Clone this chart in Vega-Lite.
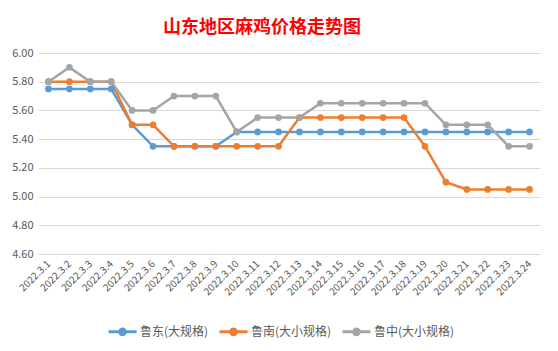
{
  "$schema": "https://vega.github.io/schema/vega-lite/v6.json",
  "autosize": {"type": "none"},
  "width": 502,
  "height": 201,
  "padding": {"left": 38, "top": 53, "right": 18, "bottom": 97},
  "background": "white",
  "title": {
    "text": "山东地区麻鸡价格走势图",
    "font": "Noto Sans CJK SC",
    "fontSize": 18,
    "fontWeight": "bold",
    "color": "#FF0000",
    "anchor": "middle",
    "dx": -27,
    "offset": 10
  },
  "config": {
    "view": {"stroke": null},
    "font": "Noto Sans CJK SC"
  },
  "data": {
    "values": [
      {"date": "2022.3.1", "series": "鲁东(大规格)", "value": 5.75},
      {"date": "2022.3.2", "series": "鲁东(大规格)", "value": 5.75},
      {"date": "2022.3.3", "series": "鲁东(大规格)", "value": 5.75},
      {"date": "2022.3.4", "series": "鲁东(大规格)", "value": 5.75},
      {"date": "2022.3.5", "series": "鲁东(大规格)", "value": 5.50},
      {"date": "2022.3.6", "series": "鲁东(大规格)", "value": 5.35},
      {"date": "2022.3.7", "series": "鲁东(大规格)", "value": 5.35},
      {"date": "2022.3.8", "series": "鲁东(大规格)", "value": 5.35},
      {"date": "2022.3.9", "series": "鲁东(大规格)", "value": 5.35},
      {"date": "2022.3.10", "series": "鲁东(大规格)", "value": 5.45},
      {"date": "2022.3.11", "series": "鲁东(大规格)", "value": 5.45},
      {"date": "2022.3.12", "series": "鲁东(大规格)", "value": 5.45},
      {"date": "2022.3.13", "series": "鲁东(大规格)", "value": 5.45},
      {"date": "2022.3.14", "series": "鲁东(大规格)", "value": 5.45},
      {"date": "2022.3.15", "series": "鲁东(大规格)", "value": 5.45},
      {"date": "2022.3.16", "series": "鲁东(大规格)", "value": 5.45},
      {"date": "2022.3.17", "series": "鲁东(大规格)", "value": 5.45},
      {"date": "2022.3.18", "series": "鲁东(大规格)", "value": 5.45},
      {"date": "2022.3.19", "series": "鲁东(大规格)", "value": 5.45},
      {"date": "2022.3.20", "series": "鲁东(大规格)", "value": 5.45},
      {"date": "2022.3.21", "series": "鲁东(大规格)", "value": 5.45},
      {"date": "2022.3.22", "series": "鲁东(大规格)", "value": 5.45},
      {"date": "2022.3.23", "series": "鲁东(大规格)", "value": 5.45},
      {"date": "2022.3.24", "series": "鲁东(大规格)", "value": 5.45},
      {"date": "2022.3.1", "series": "鲁南(大小规格)", "value": 5.80},
      {"date": "2022.3.2", "series": "鲁南(大小规格)", "value": 5.80},
      {"date": "2022.3.3", "series": "鲁南(大小规格)", "value": 5.80},
      {"date": "2022.3.4", "series": "鲁南(大小规格)", "value": 5.80},
      {"date": "2022.3.5", "series": "鲁南(大小规格)", "value": 5.50},
      {"date": "2022.3.6", "series": "鲁南(大小规格)", "value": 5.50},
      {"date": "2022.3.7", "series": "鲁南(大小规格)", "value": 5.35},
      {"date": "2022.3.8", "series": "鲁南(大小规格)", "value": 5.35},
      {"date": "2022.3.9", "series": "鲁南(大小规格)", "value": 5.35},
      {"date": "2022.3.10", "series": "鲁南(大小规格)", "value": 5.35},
      {"date": "2022.3.11", "series": "鲁南(大小规格)", "value": 5.35},
      {"date": "2022.3.12", "series": "鲁南(大小规格)", "value": 5.35},
      {"date": "2022.3.13", "series": "鲁南(大小规格)", "value": 5.55},
      {"date": "2022.3.14", "series": "鲁南(大小规格)", "value": 5.55},
      {"date": "2022.3.15", "series": "鲁南(大小规格)", "value": 5.55},
      {"date": "2022.3.16", "series": "鲁南(大小规格)", "value": 5.55},
      {"date": "2022.3.17", "series": "鲁南(大小规格)", "value": 5.55},
      {"date": "2022.3.18", "series": "鲁南(大小规格)", "value": 5.55},
      {"date": "2022.3.19", "series": "鲁南(大小规格)", "value": 5.35},
      {"date": "2022.3.20", "series": "鲁南(大小规格)", "value": 5.10},
      {"date": "2022.3.21", "series": "鲁南(大小规格)", "value": 5.05},
      {"date": "2022.3.22", "series": "鲁南(大小规格)", "value": 5.05},
      {"date": "2022.3.23", "series": "鲁南(大小规格)", "value": 5.05},
      {"date": "2022.3.24", "series": "鲁南(大小规格)", "value": 5.05},
      {"date": "2022.3.1", "series": "鲁中(大小规格)", "value": 5.80},
      {"date": "2022.3.2", "series": "鲁中(大小规格)", "value": 5.90},
      {"date": "2022.3.3", "series": "鲁中(大小规格)", "value": 5.80},
      {"date": "2022.3.4", "series": "鲁中(大小规格)", "value": 5.80},
      {"date": "2022.3.5", "series": "鲁中(大小规格)", "value": 5.60},
      {"date": "2022.3.6", "series": "鲁中(大小规格)", "value": 5.60},
      {"date": "2022.3.7", "series": "鲁中(大小规格)", "value": 5.70},
      {"date": "2022.3.8", "series": "鲁中(大小规格)", "value": 5.70},
      {"date": "2022.3.9", "series": "鲁中(大小规格)", "value": 5.70},
      {"date": "2022.3.10", "series": "鲁中(大小规格)", "value": 5.45},
      {"date": "2022.3.11", "series": "鲁中(大小规格)", "value": 5.55},
      {"date": "2022.3.12", "series": "鲁中(大小规格)", "value": 5.55},
      {"date": "2022.3.13", "series": "鲁中(大小规格)", "value": 5.55},
      {"date": "2022.3.14", "series": "鲁中(大小规格)", "value": 5.65},
      {"date": "2022.3.15", "series": "鲁中(大小规格)", "value": 5.65},
      {"date": "2022.3.16", "series": "鲁中(大小规格)", "value": 5.65},
      {"date": "2022.3.17", "series": "鲁中(大小规格)", "value": 5.65},
      {"date": "2022.3.18", "series": "鲁中(大小规格)", "value": 5.65},
      {"date": "2022.3.19", "series": "鲁中(大小规格)", "value": 5.65},
      {"date": "2022.3.20", "series": "鲁中(大小规格)", "value": 5.50},
      {"date": "2022.3.21", "series": "鲁中(大小规格)", "value": 5.50},
      {"date": "2022.3.22", "series": "鲁中(大小规格)", "value": 5.50},
      {"date": "2022.3.23", "series": "鲁中(大小规格)", "value": 5.35},
      {"date": "2022.3.24", "series": "鲁中(大小规格)", "value": 5.35}
    ]
  },
  "mark": {"type": "line", "strokeWidth": 2.5, "point": {"filled": true, "size": 45, "opacity": 1}},
  "encoding": {
    "x": {
      "field": "date",
      "type": "ordinal",
      "sort": null,
      "scale": {"padding": 0.5},
      "axis": {
        "title": null,
        "labelAngle": -45,
        "labelAlign": "right",
        "labelBaseline": "middle",
        "labelFontSize": 10,
        "labelColor": "#595959",
        "labelPadding": 8,
        "ticks": false,
        "domain": false,
        "grid": false
      }
    },
    "y": {
      "field": "value",
      "type": "quantitative",
      "scale": {"domain": [4.6, 6.0], "nice": false, "zero": false},
      "axis": {
        "title": null,
        "values": [4.6, 4.8, 5.0, 5.2, 5.4, 5.6, 5.8, 6.0],
        "format": ".2f",
        "labelFontSize": 11,
        "labelColor": "#595959",
        "labelPadding": 5,
        "ticks": false,
        "domain": false,
        "gridColor": "#D9D9D9",
        "gridWidth": 1
      }
    },
    "color": {
      "field": "series",
      "type": "nominal",
      "sort": ["鲁东(大规格)", "鲁南(大小规格)", "鲁中(大小规格)"],
      "scale": {
        "domain": ["鲁东(大规格)", "鲁南(大小规格)", "鲁中(大小规格)"],
        "range": ["#5B9BD5", "#ED7D31", "#A5A5A5"]
      },
      "legend": {
        "title": null,
        "orient": "none",
        "direction": "horizontal",
        "legendX": 69,
        "legendY": 263,
        "labelFontSize": 12,
        "labelColor": "#595959",
        "symbolType": "M-1,0H1M-0.2,0A0.2,0.2 0 1,0 0.2,0A0.2,0.2 0 1,0 -0.2,0",
        "symbolSize": 784,
        "symbolStrokeWidth": 3,
        "labelOffset": 2,
        "columnPadding": 4,
        "encode": {"symbols": {"update": {"fill": {"scale": "color", "field": "value"}}}}
      }
    }
  }
}
